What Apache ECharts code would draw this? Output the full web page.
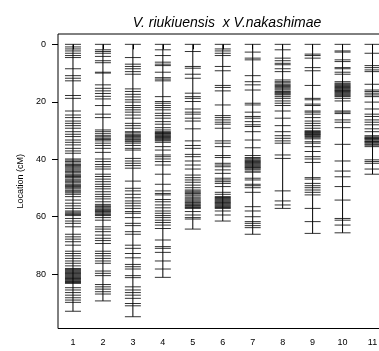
<!DOCTYPE html>
<html>
<head>
<meta charset="utf-8">
<script src="https://cdn.jsdelivr.net/npm/echarts@6/dist/echarts.min.js"></script>
<style>
  html, body { margin: 0; padding: 0; background: #fff; }
  #map { width: 379px; height: 351px; }
</style>
</head>
<body>
<div id="map"></div>
<script>
// marker positions (cM) per linkage group
const chr1 = [0, 0.9, 1.6, 2.3, 3.1, 3.9, 4.6, 8.5, 10.9, 11.8, 12.7, 17.8, 18.8, 23.2, 24.6, 25.5, 26.7, 27.5, 28.3, 29.2, 30.4, 31.3, 32.1, 33.3, 34.1, 35.0, 36.2, 37.1, 37.9,
  39.9, 40.3, 40.8, 41.3, 41.8, 42.2, 42.6, 43.0, 43.4, 43.8, 44.3, 44.7, 45.2, 45.6, 46.0, 46.4, 46.9, 47.3, 47.8, 48.2, 48.7, 49.1, 49.5, 49.9, 50.3, 50.8, 51.3, 51.7, 52.2,
  53.0, 54.2, 55.3, 56.2, 57.1, 58.0, 58.4, 58.8, 59.2, 59.6, 60.6, 61.5, 62.3, 63.5, 66.1, 67.0, 67.8, 68.7, 69.9,
  72.0, 72.8, 73.6, 74.5, 75.4, 76.2, 77.1, 78.0, 78.3, 78.6, 78.9, 79.2, 79.5, 79.7, 80.0, 80.3, 80.6, 80.9, 81.2, 81.5, 81.8, 82.1, 82.4, 82.6, 82.9, 83.2,
  84.7, 85.5, 86.4, 87.3, 88.2, 89.0, 89.8, 92.9];
const chr2 = [0, 1.9, 2.5, 3.1, 4.2, 5.7, 6.4, 9.7, 10.0, 14.1, 15.3, 16.2, 17.1, 18.1, 19.0, 21.3, 24.3, 25.5, 29.8, 30.4, 31.1, 31.8, 32.2, 32.7, 33.1, 33.6, 34.4, 35.2, 36.2, 37.6,
  39.9, 40.8, 41.8, 42.6, 43.4, 45.2, 46.0, 46.9, 47.8, 48.7, 49.5, 50.3, 51.3, 52.2, 53.0, 53.8, 54.8, 55.7, 56.2, 56.5, 56.9, 57.3, 57.6, 57.9, 58.2, 58.6, 59.0, 59.3, 59.6, 60.3, 61.2,
  63.5, 64.3, 65.2, 66.4, 67.5, 68.3, 69.3, 72.0, 72.8, 73.6, 74.5, 75.4, 76.2, 78.9, 79.7, 80.5, 83.6, 84.4, 85.2, 86.1, 86.9, 89.3];
const chr3 = [0, 4.6, 6.9, 7.7, 8.5, 9.5, 10.4, 15.5, 16.4, 17.4, 18.3, 19.3, 20.1, 21.3, 22.0, 22.8, 23.6, 24.6, 25.7, 27.5, 28.3, 29.2, 30.4, 30.8, 31.3, 31.7, 32.1, 32.5, 32.9, 33.2, 33.6, 33.9, 34.4, 35.2, 36.2, 36.8,
  39.7, 40.6, 41.4, 42.2, 43.1, 47.6, 50.1, 51.0, 52.2, 53.4, 54.5, 55.3, 56.2, 57.1, 58.2, 58.8, 60.3, 62.3, 63.1, 65.2, 66.1, 69.9, 71.0, 72.8, 74.3,
  76.6, 77.4, 78.2, 80.5, 81.2, 84.4, 85.5, 86.4, 87.3, 88.4, 90.2, 91.0, 94.8];
const chr4 = [0, 1.9, 3.9, 6.2, 6.9, 7.4, 9.7, 11.6, 12.1, 12.7, 18.2, 19.9, 20.5, 21.3, 22.0, 22.8, 24.0, 24.8, 25.7, 26.9, 27.8, 29.0, 29.8, 30.4, 30.7, 31.0, 31.2, 31.5, 31.8, 32.1, 32.4, 32.7, 33.0, 33.3, 33.6, 34.1,
  35.6, 36.8, 38.5, 39.1, 39.9, 40.8, 42.0, 45.2, 48.7, 51.0, 51.9, 52.4, 54.0, 54.8, 55.9, 56.9, 58.0, 58.8, 59.6, 60.3, 61.2, 62.0, 62.9, 64.1, 68.1, 70.4, 71.0, 72.4, 75.4, 78.2, 81.1];
const chr5 = [0, 2.5, 7.7, 8.3, 10.4, 11.8, 17.0, 18.2, 18.8, 19.9, 22.5, 23.6, 24.3, 25.7, 26.7, 29.4, 33.6, 35.2, 36.2, 38.3, 39.1, 40.6, 42.0, 43.4, 45.5, 46.4, 47.2, 48.0, 49.0, 49.9,
  50.7, 51.1, 51.5, 51.9, 52.4, 52.8, 53.4, 53.8, 54.2, 54.6, 55.0, 55.3, 55.7, 56.1, 56.5, 56.8, 57.1, 58.2, 59.4, 60.3, 60.8, 64.3];
const chr6 = [0, 1.6, 2.3, 3.1, 3.9, 7.7, 9.2, 14.3, 15.0, 16.2, 21.1, 24.8, 25.5, 26.3, 27.1, 27.8, 29.2, 33.6, 34.4, 35.6, 38.7, 39.4, 41.4, 42.0, 42.6, 43.7, 44.9, 46.6, 47.2, 47.8, 48.4, 49.5,
  51.5, 52.2, 53.0, 53.3, 53.6, 53.9, 54.2, 54.5, 54.8, 55.1, 55.3, 55.6, 55.9, 56.2, 56.5, 56.8, 57.1, 58.0, 59.4, 61.5];
const chr7 = [0, 2.7, 4.8, 5.4, 10.9, 13.0, 14.1, 15.9, 20.5, 21.1, 23.6, 25.1, 25.7, 26.9, 28.0, 28.6, 30.4, 33.3, 36.0, 38.7, 39.4, 39.8, 40.2, 40.5, 40.8, 41.1, 41.4, 41.7, 42.0, 42.3, 42.6, 42.9, 43.1, 43.5, 44.1, 44.5,
  46.6, 47.2, 48.7, 49.2, 49.9, 51.5, 56.5, 58.0, 60.0, 61.7, 62.3, 63.1, 63.8, 66.1];
const chr8 = [0, 1.9, 4.8, 5.7, 6.6, 7.1, 8.5, 9.5, 12.4, 13.0, 13.4, 13.9, 14.3, 14.7, 15.1, 15.5, 15.9, 16.4, 16.7, 17.0, 17.3, 17.6, 18.2, 18.8, 19.7, 20.5, 21.3, 23.2, 25.7, 28.3,
  30.4, 31.8, 32.7, 33.6, 34.4, 38.5, 39.7, 51.0, 54.5, 55.9, 57.1];
const chr9 = [0, 3.4, 3.9, 4.8, 8.1, 9.2, 14.3, 18.8, 19.3, 20.8, 21.3, 23.2, 23.6, 24.3, 25.5, 26.7, 27.5, 28.3, 29.2, 30.1, 30.3, 30.6, 30.8, 31.1, 31.3, 31.5, 31.8, 32.1, 32.5, 32.9, 33.9, 34.4, 35.6, 37.3,
  39.1, 39.9, 41.1, 46.4, 46.9, 48.4, 49.2, 49.9, 50.7, 51.5, 52.4, 57.1, 61.7, 65.8];
const chr10 = [0, 2.3, 2.7, 5.4, 6.0, 8.1, 8.5, 9.7, 10.4, 13.0, 13.5, 13.8, 14.1, 14.4, 14.7, 15.0, 15.3, 15.6, 15.9, 16.1, 16.4, 16.7, 17.0, 17.3, 17.6, 17.9, 18.2, 18.8, 19.7,
  23.2, 23.6, 24.1, 26.3, 27.1, 29.0, 34.8, 40.6, 44.1, 46.1, 49.5, 54.2, 60.6, 61.2, 62.9, 65.6];
const chr11 = [0, 3.1, 7.4, 8.1, 8.9, 9.5, 13.9, 15.9, 16.4, 17.0, 17.6, 18.2, 20.1, 22.5, 24.3, 25.1, 26.3, 27.1, 28.0, 29.4, 30.4, 31.8, 32.2, 32.5, 32.7, 32.9, 33.2, 33.6, 33.8, 34.1, 34.4, 34.8, 35.1, 35.6,
  40.2, 40.8, 41.4, 43.4, 45.2];

const groups = [chr1, chr2, chr3, chr4, chr5, chr6, chr7, chr8, chr9, chr10, chr11];
const groupTicks = [1, 2, 3, 4, 5, 6, 7, 8, 9, 10, 11];
const locTicks = [0, 20, 40, 60, 80];
const titleText = 'V. riukiuensis  x V.nakashimae';

let markerData = [];
let backboneData = [];
groups.forEach((g, i) => {
  backboneData.push([i + 1, Math.max(...g)]);
  g.forEach(v => markerData.push([i + 1, v]));
});

const chart = echarts.init(document.getElementById('map'), null, { renderer: 'canvas' });
chart.setOption({
  animation: false,
  title: {
    text: titleText,
    left: 222,
    top: 11,
    textAlign: 'center',
    textStyle: {
      fontFamily: 'Liberation Sans, Arial, sans-serif',
      fontStyle: 'italic',
      fontWeight: 'normal',
      fontSize: 14,
      color: '#000'
    }
  },
  grid: {
    left: 58,
    top: 34,
    width: 337,
    bottom: 22.5,
    outerBoundsMode: 'none',
    containLabel: false,
    show: true,
    borderColor: '#000',
    borderWidth: 1
  },
  xAxis: {
    type: 'value',
    min: 0.5,
    max: 11.75,
    splitLine: { show: false },
    axisLine: { show: false },
    axisTick: {
      show: true,
      customValues: groupTicks,
      length: 5,
      lineStyle: { color: '#000' }
    },
    axisLabel: {
      customValues: groupTicks,
      margin: 10,
      color: '#000',
      fontSize: 9,
      fontFamily: 'Liberation Sans, Arial, sans-serif'
    }
  },
  yAxis: {
    type: 'value',
    inverse: true,
    min: -3.6,
    max: 98.9,
    name: 'Location (cM)',
    nameLocation: 'middle',
    nameGap: 33,
    nameTextStyle: {
      color: '#000',
      fontSize: 9,
      fontFamily: 'Liberation Sans, Arial, sans-serif'
    },
    splitLine: { show: false },
    axisLine: { show: false },
    axisTick: {
      show: true,
      customValues: locTicks,
      length: 6,
      lineStyle: { color: '#000' }
    },
    axisLabel: {
      customValues: locTicks,
      margin: 12,
      color: '#000',
      fontSize: 9,
      fontFamily: 'Liberation Sans, Arial, sans-serif'
    }
  },
  series: [
    {
      // chromosome backbone
      type: 'custom',
      data: backboneData,
      renderItem: function (params, api) {
        const a = api.coord([api.value(0), 0]);
        const b = api.coord([api.value(0), api.value(1)]);
        return {
          type: 'line',
          shape: { x1: a[0], y1: a[1], x2: b[0], y2: b[1] },
          style: { stroke: '#000', lineWidth: 1 }
        };
      }
    },
    {
      // markers
      type: 'custom',
      data: markerData,
      renderItem: function (params, api) {
        const p = api.coord([api.value(0), api.value(1)]);
        return {
          type: 'line',
          shape: { x1: p[0] - 8, y1: p[1], x2: p[0] + 8, y2: p[1] },
          style: { stroke: '#000', lineWidth: 1, opacity: 0.8 }
        };
      }
    }
  ]
});
</script>
</body>
</html>
